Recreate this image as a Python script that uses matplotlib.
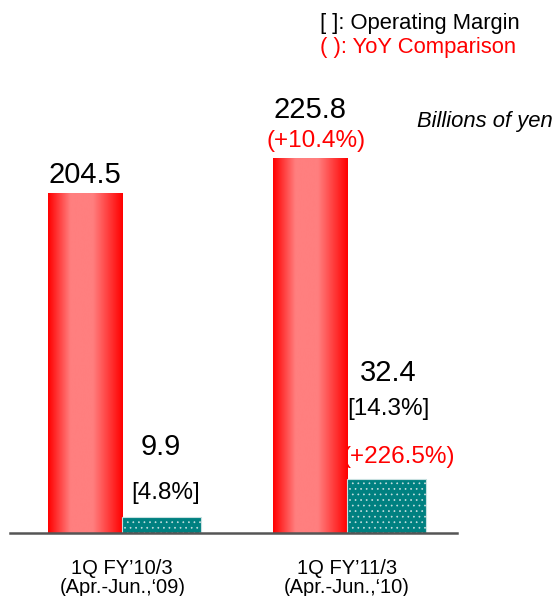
import numpy as np
from matplotlib import pyplot as plt
from matplotlib.colors import LinearSegmentedColormap

plt.rcParams['font.family'] = ['Liberation Sans', 'DejaVu Sans']
plt.rcParams['hatch.color'] = '#d8eeee'
plt.rcParams['hatch.linewidth'] = 0.5

# data (billions of yen)
periods = ['1Q FY\u201910/3\n(Apr.-Jun.,\u201809)', '1Q FY\u201911/3\n(Apr.-Jun.,\u201810)']
sales = [204.5, 225.8]
op_income = [9.9, 32.4]
margin = ['[4.8%]', '[14.3%]']
sales_yoy = [None, '(+10.4%)']
op_yoy = [None, '(+226.5%)']

px_per_unit = 1.658
bar_w = 0.33

fig = plt.figure(figsize=(5.54, 5.96), dpi=100)
ax = fig.add_axes([10 / 554, 63 / 596, 447 / 554, 533 / 596])

red_cmap = LinearSegmentedColormap.from_list(
    'redbar', [(0, '#ff0000'), (0.3, '#ff7f7f'), (0.6, '#ff7f7f'), (1, '#ff0000')])
grad = np.linspace(0, 1, 256).reshape(1, -1)

x = np.arange(len(periods))
for i in x:
    # red sales bar with horizontal gradient
    x0 = i - bar_w
    ax.imshow(grad, cmap=red_cmap, aspect='auto', zorder=2,
              extent=[x0, i, 0, sales[i]])
    # teal operating income bar
    ax.bar(i + bar_w / 2 + 0.01, op_income[i], width=bar_w + 0.02, color='#008080',
           edgecolor='#c8e0e0', linewidth=0.8, hatch='...', zorder=2)

ax.set_xlim(-0.5, 1.49)
ax.set_ylim(0, 533 / px_per_unit)

# labels
def lab(xv, yv, s, dx, dy, color='black', size=21, z=5):
    ax.annotate(s, (xv, yv), xytext=(dx, dy), textcoords='offset pixels',
                ha='center', va='center', fontsize=size, color=color,
                zorder=z, annotation_clip=False)

lab(x[0] - bar_w / 2, sales[0], f'{sales[0]:.1f}', 0, 19)
lab(x[1] - bar_w / 2, sales[1], f'{sales[1]:.1f}', 0, 49)
lab(x[1] - bar_w / 2, sales[1], sales_yoy[1], 6, 18, color='red', size=17.5)

lab(x[0] + bar_w / 2, op_income[0], f'{op_income[0]:.1f}', 1, 70)
lab(x[0] + bar_w / 2, op_income[0], margin[0], 6, 24, size=17.5)
lab(x[1] + bar_w / 2, op_income[1], f'{op_income[1]:.1f}', 4, 106)
lab(x[1] + bar_w / 2, op_income[1], margin[1], 4, 70, size=17.5)
lab(x[1] + bar_w / 2, op_income[1], op_yoy[1], 15, 22, color='red', size=17.5, z=1)

for s in ['top', 'left', 'right']:
    ax.spines[s].set_visible(False)
ax.spines['bottom'].set_color('#555555')
ax.spines['bottom'].set_linewidth(1.8)
ax.set_yticks([])
ax.set_xticks(x)
ax.set_xticklabels(periods, fontsize=14.5, linespacing=1.0)
ax.tick_params(axis='x', length=0, pad=19)

fig.text(320 / 554, 1 - 23 / 596, '[ ]: Operating Margin', fontsize=15.8, va='center')
fig.text(320 / 554, 1 - 48 / 596, '( ): YoY Comparison', fontsize=15.8, va='center', color='red')
fig.text(417 / 554, 1 - 121 / 596, 'Billions of yen', fontsize=15.8, va='center', style='italic')

fig.savefig('out.png', dpi=100)
